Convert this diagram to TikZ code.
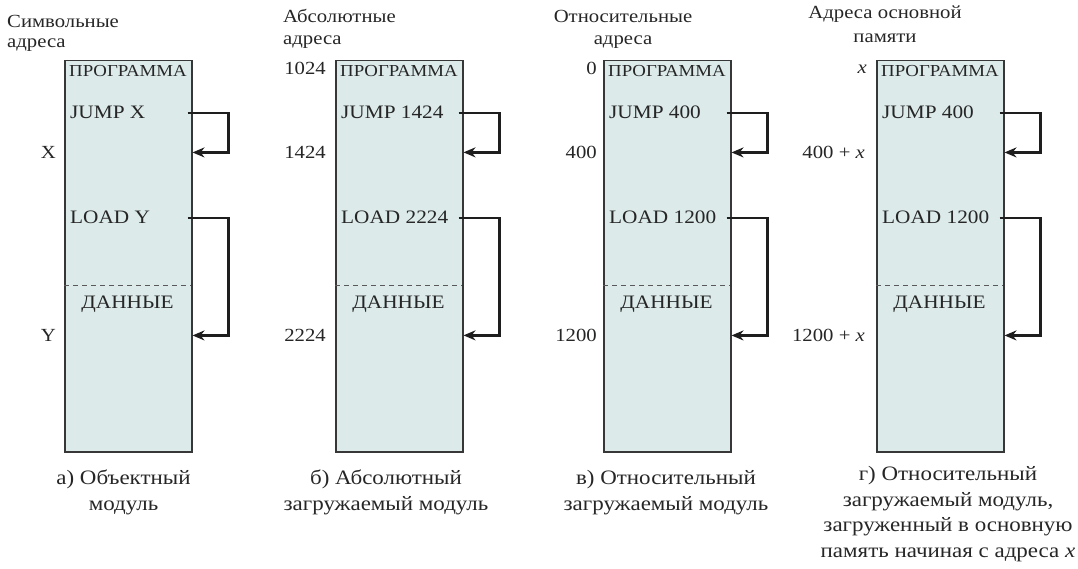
\documentclass[tikz,border=0pt]{standalone}
\usepackage{fontspec}
\setmainfont{Liberation Serif}[FakeStretch=1.12]
\usetikzlibrary{arrows.meta}

\definecolor{boxfill}{RGB}{220,234,234}
\definecolor{boxline}{RGB}{55,55,55}
\definecolor{linkc}{RGB}{30,30,30}

\newcommand{\boxfont}{\fontsize{19}{22}\selectfont}
\newcommand{\progfont}{\fontsize{16.8}{20}\selectfont}
\newcommand{\labfont}{\fontsize{18.5}{22.5}\selectfont}
\newcommand{\capfont}{\fontsize{20.5}{25.5}\selectfont}

\begin{document}
\begin{tikzpicture}[x=1pt,y=-1pt,
    membox/.style={draw=boxline, fill=boxfill, line width=1.5pt, minimum width=127pt,
      minimum height=391pt, inner sep=0pt, anchor=north west},
    instr/.style={font=\boxfont, inner sep=0pt, anchor=base west, text=black!85},
    addr/.style={font=\labfont, inner sep=0pt, anchor=base east, text=black!85},
    head/.style={font=\labfont, inner sep=0pt, anchor=base, text=black!85},
    caption/.style={font=\capfont, inner sep=0pt, anchor=base, align=center, text=black!85},
    sepline/.style={draw=black!65, line width=1pt, dash pattern=on 5pt off 4pt},
    link/.style={draw=linkc, line width=2.4pt, -{Stealth[length=12pt,width=10pt]}}]
\useasboundingbox (0,0) rectangle (1078,569);

% Boxes
\foreach \n/\x in {A/64,B/335,C/603,D/876} {
    \node[membox] (box\n) at (\x,60) {};
    \draw[sepline] (\x,285) -- ++(127,0);
    \node[instr, font=\progfont] (prg\n) at (\x+5,77) {ПРОГРАММА};
    \node[instr, anchor=base] (dat\n) at (\x+63.5,308) {ДАННЫЕ};
}

% a) object module
\node[head, anchor=base west, align=left, font=\fontsize{18.5}{20}\selectfont] (hdA) at (7,48) {Символьные\\адреса};
\node[instr] (jmpA) at (70,119) {JUMP X};
\node[instr] (ldA) at (70,224) {LOAD Y};
\node[addr] (xA) at (56,158.5) {X};
\node[addr] (yA) at (56,341.5) {Y};
\draw[link] ([xshift=-5pt]boxA.east |- jmpA.east) -- ++(41,0) |- (boxA.east |- xA.east);
\draw[link] ([xshift=-5pt]boxA.east |- ldA.east) -- ++(41,0) |- (boxA.east |- yA.east);
\node[caption] (capA) at (123.5,510) {а) Объектный\\модуль};

% b) absolute load module
\node[head, anchor=base west, align=left] (hdB) at (283,45) {Абсолютные\\адреса};
\node[instr] (jmpB) at (341,119) {JUMP 1424};
\node[instr] (ldB) at (341,224) {LOAD 2224};
\node[addr] (sB) at (326,75) {1024};
\node[addr] (xB) at (326,158.5) {1424};
\node[addr] (yB) at (326,341.5) {2224};
\draw[link] ([xshift=-5pt]boxB.east |- jmpB.east) -- ++(41,0) |- (boxB.east |- xB.east);
\draw[link] ([xshift=-5pt]boxB.east |- ldB.east) -- ++(41,0) |- (boxB.east |- yB.east);
\node[caption] (capB) at (386,510) {б) Абсолютный\\загружаемый модуль};

% c) relative load module
\node[head, align=center] (hdC) at (623,45) {Относительные\\адреса};
\node[instr] (jmpC) at (609,119) {JUMP 400};
\node[instr] (ldC) at (609,224) {LOAD 1200};
\node[addr] (sC) at (597,75) {0};
\node[addr] (xC) at (597,158.5) {400};
\node[addr] (yC) at (597,341.5) {1200};
\draw[link] ([xshift=-5pt]boxC.east |- jmpC.east) -- ++(41,0) |- (boxC.east |- xC.east);
\draw[link] ([xshift=-5pt]boxC.east |- ldC.east) -- ++(41,0) |- (boxC.east |- yC.east);
\node[caption] (capC) at (666,510) {в) Относительный\\загружаемый модуль};

% d) relative module loaded at x
\node[head, align=center, font=\fontsize{18.5}{24.5}\selectfont] (hdD) at (885,43) {Адреса основной\\памяти};
\node[instr] (jmpD) at (882,119) {JUMP 400};
\node[instr] (ldD) at (882,224) {LOAD 1200};
\node[addr] (sD) at (867,74) {\textit{x}};
\node[addr] (xD) at (865,158.5) {400 + \textit{x}};
\node[addr] (yD) at (865,341.5) {1200 + \textit{x}};
\draw[link] ([xshift=-5pt]boxD.east |- jmpD.east) -- ++(41,0) |- (boxD.east |- xD.east);
\draw[link] ([xshift=-5pt]boxD.east |- ldD.east) -- ++(41,0) |- (boxD.east |- yD.east);
\node[caption] (capD) at (948,557) {г) Относительный\\загружаемый модуль,\\загруженный в основную\\память начиная с адреса \textit{x}};
\end{tikzpicture}
\end{document}
